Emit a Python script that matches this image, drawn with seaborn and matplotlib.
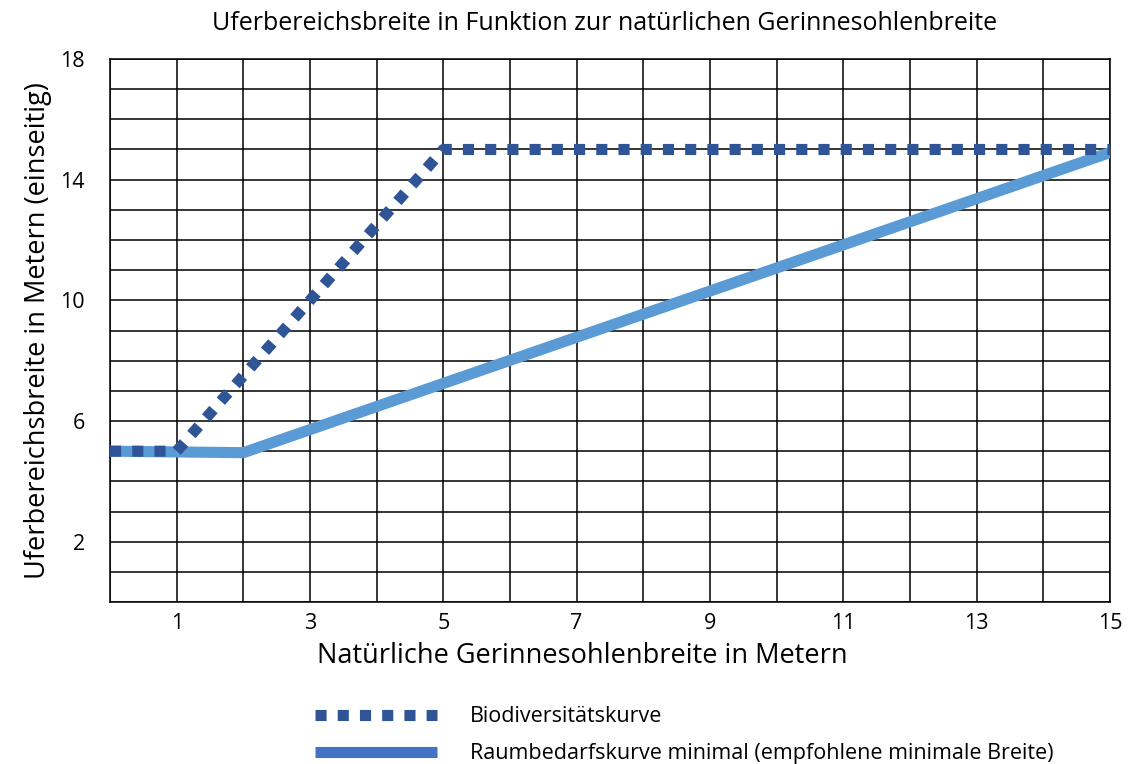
import matplotlib
matplotlib.use('Agg')
import matplotlib.pyplot as plt
import seaborn as sns
import pandas as pd

# Data
bio_x = [0, 1, 5, 15]
bio_y = [5, 5, 15, 15]
raum_x = [0, 2, 15]
raum_y = [5, 4.95, 14.9]

bio_label = 'Biodiversitätskurve'
raum_label = 'Raumbedarfskurve minimal (empfohlene minimale Breite)'
x_ticks = [1, 3, 5, 7, 9, 11, 13, 15]
y_ticks = [2, 6, 10, 14, 18]

sns.set_style('white')
plt.rcParams['font.family'] = ['Open Sans', 'DejaVu Sans']
plt.rcParams['text.color'] = 'black'
plt.rcParams['axes.labelcolor'] = 'black'
plt.rcParams['xtick.color'] = 'black'
plt.rcParams['ytick.color'] = 'black'

fig = plt.figure(figsize=(11.33, 7.64), dpi=100)
ax = fig.add_axes([0.0971, 0.212, 0.8826, 0.7108])

df_bio = pd.DataFrame({'x': bio_x, 'y': bio_y})
df_raum = pd.DataFrame({'x': raum_x, 'y': raum_y})

sns.lineplot(data=df_raum, x='x', y='y', ax=ax, color='#5B9BD5',
             linewidth=8, label=raum_label, zorder=3)
sns.lineplot(data=df_bio, x='x', y='y', ax=ax, color='#2F5597',
             linewidth=8, dashes=False, label=bio_label, zorder=4)
raum_line, bio_line = ax.lines[0], ax.lines[1]
raum_line.set_solid_capstyle('butt')
bio_line.set_dashes([1, 1])
bio_line.set_dash_capstyle('butt')

ax.set_xlim(0, 15)
ax.set_ylim(0, 18)
ax.set_xticks(range(0, 16), minor=True)
ax.set_yticks(range(0, 19), minor=True)
ax.set_xticks(x_ticks)
ax.set_yticks(y_ticks)
ax.grid(True, which='both', color='black', linewidth=1.1)
ax.set_axisbelow(True)
for s in ax.spines.values():
    s.set_color('black')
    s.set_linewidth(1.1)
ax.tick_params(which='both', length=0)
ax.tick_params(axis='y', labelsize=15.5, pad=18)
ax.tick_params(axis='x', labelsize=15.5, pad=8)

ax.set_xlabel('Natürliche Gerinnesohlenbreite in Metern', fontsize=19.5,
              labelpad=6, x=0.472)
ax.set_ylabel('Uferbereichsbreite in Metern (einseitig)', fontsize=19.5, labelpad=6)
fig.suptitle('Uferbereichsbreite in Funktion zur natürlichen Gerinnesohlenbreite',
             fontsize=18, x=0.534, y=0.985)

handles, labels = ax.get_legend_handles_labels()
ax.get_legend().remove()
leg = fig.legend(handles[::-1], labels[::-1], loc='upper left',
                 bbox_to_anchor=(0.27, 0.087), frameon=False, fontsize=15.5,
                 handlelength=5.7, handletextpad=1.5, labelspacing=0.75,
                 borderaxespad=0)
leg.get_lines()[1].set_color('#4472C4')

fig.savefig('out.png', dpi=100)
